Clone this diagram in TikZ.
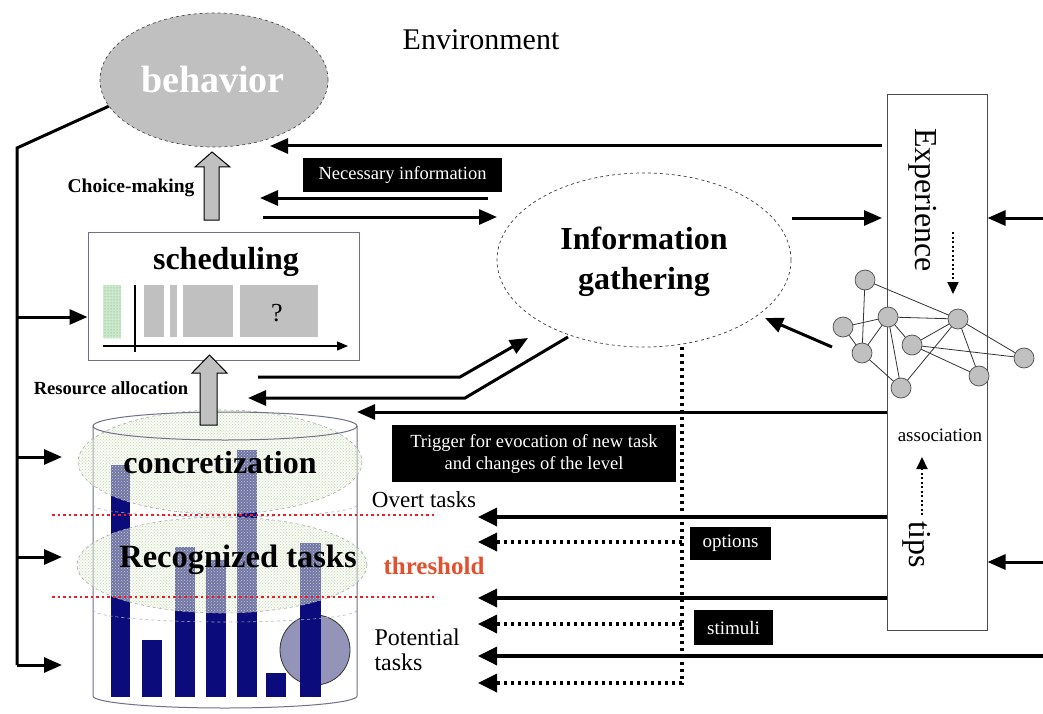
\documentclass[tikz,border=0pt]{standalone}
\usepackage{fontspec}
\setmainfont{Liberation Serif}
\usetikzlibrary{arrows.meta,shapes.geometric,patterns}
\definecolor{navyc}{HTML}{0B0B7B}
\definecolor{grayc}{HTML}{C0C0C0}
\definecolor{creamc}{HTML}{F4F5E4}
\definecolor{greenc}{HTML}{CFE6CF}
\definecolor{redc}{HTML}{E8202A}
\definecolor{threshc}{HTML}{E2502E}
\definecolor{edgec}{HTML}{707088}
\definecolor{circc}{HTML}{9494B8}
\newcommand\fsz[2]{\fontsize{#1}{#2}\selectfont}
\begin{document}
\begin{tikzpicture}[x=1pt,y=-1pt,
  bigtip/.style={-{Triangle[length=19pt,width=18pt]}},
  midtip/.style={-{Triangle[length=18pt,width=15pt]}},
  solidarrow/.style={line width=3.5pt,bigtip},
  toparrow/.style={line width=3pt,midtip},
  dotarrow/.style={line width=3.5pt,dash pattern=on 3pt off 4pt,bigtip},
  smalldot/.style={line width=2pt,dash pattern=on 2pt off 2.5pt,-{Triangle[length=12pt,width=11pt]}},
  blackbox/.style={fill=black,text=white,inner sep=0pt},
  netnode/.style={circle,fill=grayc,draw=gray!60!black,line width=0.7pt,minimum size=20pt,inner sep=0pt},
  netedge/.style={draw=gray!40!black,line width=0.8pt},
  hollowup/.style={fill=grayc,draw=black,line width=1pt},
  redline/.style={draw=redc,line width=2.5pt,dash pattern=on 2.5pt off 3pt},
  cloud/.style={fill=creamc,fill opacity=0.45,draw=gray!70,dashed,line width=0.6pt,draw opacity=1}
]
\useasboundingbox[fill=white] (0,0) rectangle (1043,714);

% ---------- Environment ----------
\node (env) at (481,40) {\fsz{30}{32}Environment};

% ---------- behavior ----------
\node[ellipse,fill=grayc,draw=gray!60!black,dashed,line width=0.7pt,minimum width=228pt,minimum height=134pt,inner sep=0pt] (beh) at (214,80) {};
\node[text=white] (behtxt) at (213,80) {\fsz{38}{40}\bfseries behavior};

% ---------- scheduling box ----------
\node[draw=edgec,line width=1pt,minimum width=271pt,minimum height=128pt,inner sep=0pt] (sched) at (223.5,296) {};
\node (schedtxt) at (226,262) {\fsz{32}{34}\bfseries scheduling};
\fill[greenc] (103,285) rectangle (121,338);
\fill[pattern=dots,pattern color=green!50!gray] (103,285) rectangle (121,338);
\fill[grayc] (144,285) rectangle (164,337);
\fill[grayc] (170,285) rectangle (177,337);
\fill[grayc] (183,285) rectangle (233,337);
\fill[grayc] (240,285) rectangle (318,337);
\node (qm) at (277,313) {\fsz{26}{28}?};
\draw[line width=1.3pt] (135,285) -- (135,352);
\coordinate (ax0) at (103,346);
\coordinate (ax1) at (348,346);
\draw[line width=1.3pt,-{Triangle[length=11pt,width=9pt]}] (ax0) -- (ax1);

% ---------- cylinder ----------
\draw[fill=white,draw=edgec,line width=1pt] (93,426) -- (93,696) arc[start angle=180,end angle=0,x radius=132,y radius=12] -- (357,426);
\filldraw[fill=circc,draw=gray!40!black,line width=0.8pt] (315,650) circle[radius=35pt];
% bars
\fill[navyc] (111,465) rectangle (130,697);
\fill[navyc] (142,640) rectangle (162,697);
\fill[navyc] (175,547) rectangle (195,697);
\fill[navyc] (206,560) rectangle (226,697);
\fill[navyc] (237,450) rectangle (257,697);
\fill[navyc] (266,673) rectangle (286,697);
\fill[navyc] (300,543) rectangle (321,697);
% clouds
\draw[cloud] (220,462) ellipse[x radius=142,y radius=52];
\fill[pattern=crosshatch dots,pattern color=green!30!gray!40] (220,462) ellipse[x radius=142,y radius=52];
\draw[cloud] (222,565) ellipse[x radius=145,y radius=48];
\fill[pattern=crosshatch dots,pattern color=green!30!gray!40] (222,565) ellipse[x radius=145,y radius=48];
\draw[draw=edgec,line width=1pt] (225,426) ellipse[x radius=132,y radius=14];
\draw[gray!60,dashed,line width=0.6pt] (93,505) arc[start angle=180,end angle=0,x radius=132,y radius=12];
\draw[gray!60,dashed,line width=0.6pt] (93,610) arc[start angle=180,end angle=0,x radius=132,y radius=12];
% red threshold lines
\coordinate (r1a) at (52,515); \coordinate (r1b) at (437,515);
\coordinate (r2a) at (52,597); \coordinate (r2b) at (437,597);
\draw[redline] (r1a) -- (r1b);
\draw[redline] (r2a) -- (r2b);
\node (conc) at (220,463) {\fsz{32}{34}\bfseries concretization};
\node (recog) at (238,560) {\fsz{32.5}{34}\bfseries Recognized tasks};
\node[text=threshc] (thr) at (434,566) {\fsz{25}{27}\bfseries threshold};
\node (overt) at (424,500) {\fsz{23}{25}Overt tasks};
\node[align=left,anchor=west,font=\fsz{24}{25}] (pot) at (371,650) {Potential\\tasks};

% ---------- hollow arrows ----------
\draw[hollowup] (204,220) -- (204,167) -- (195,167) -- (212,152) -- (230,167) -- (219,167) -- (219,220) -- cycle;
\draw[hollowup] (200,425) -- (200,373) -- (192,373) -- (209.5,355) -- (227,373) -- (217,373) -- (217,425) -- cycle;
\node (choice) at (131,188) {\fsz{19.5}{21}\bfseries Choice-making};
\node (resalloc) at (111,388) {\fsz{18.5}{20}\bfseries Resource allocation};

% ---------- left feedback ----------
\coordinate (fb0) at (17,148);
\coordinate (fb1) at (17,665);
\coordinate (fbS) at (17,317);
\coordinate (fbC) at (17,457);
\coordinate (fbR) at (17,557);
\coordinate (fbCe) at (62,457);
\coordinate (fbRe) at (62,557);
\coordinate (fbPe) at (62,665);
\draw[line width=3pt,line join=miter] (beh.194) -- (fb0) -- (fb1);
\draw[line width=3pt,midtip] (fbS) -- (sched.west |- fbS);
\draw[line width=3pt,midtip] (fbC) -- (fbCe);
\draw[line width=3pt,midtip] (fbR) -- (fbRe);
\draw[line width=3pt,midtip] (fb1) -- (fbPe);

% ---------- Information gathering ----------
\node[ellipse,fill=white,draw=gray!50!black,dashed,line width=0.7pt,minimum width=294pt,minimum height=174pt,inner sep=0pt] (info) at (644,260) {};
\node[align=center,font=\fsz{32}{40}\bfseries] (infotxt) at (644,262) {Information\\gathering};

% ---------- Experience box ----------
\node[draw=gray!60!black,line width=1pt,minimum width=100pt,minimum height=535pt,inner sep=0pt] (exp) at (937,362.5) {};
\node[rotate=-90] (exptxt) at (923,200) {\fsz{32}{34}Experience};
\node (assoc) at (940,435) {\fsz{19}{21}association};
\node[rotate=-90] (tips) at (917,545) {\fsz{32}{34}tips};
\coordinate (d1a) at (953,232); \coordinate (d1b) at (953,294);
\draw[smalldot] (d1a) -- (d1b);
\coordinate (d2a) at (922,515); \coordinate (d2b) at (922,457);
\draw[smalldot] (d2a) -- (d2b);

% network
\draw[netedge] (865,280) -- (862,353);
\draw[netedge] (865,280) -- (958,319);
\draw[netedge] (843,327) -- (888,317);
\draw[netedge] (888,317) -- (958,319);
\draw[netedge] (888,317) -- (862,353);
\draw[netedge] (888,317) -- (901,388);
\draw[netedge] (888,317) -- (912,345);
\draw[netedge] (862,353) -- (901,388);
\draw[netedge] (958,319) -- (912,345);
\draw[netedge] (958,319) -- (901,388);
\draw[netedge] (958,319) -- (979,376);
\draw[netedge] (958,319) -- (1024,358);
\draw[netedge] (912,345) -- (1024,358);
\draw[netedge] (912,345) -- (979,376);
\draw[netedge] (843,327) -- (862,353);
\node[netnode] (n1) at (865,280) {};
\node[netnode] (n2) at (843,327) {};
\node[netnode] (n3) at (888,317) {};
\node[netnode] (n4) at (958,319) {};
\node[netnode] (n5) at (912,345) {};
\node[netnode] (n6) at (862,353) {};
\node[netnode] (n7) at (1024,358) {};
\node[netnode] (n8) at (979,376) {};
\node[netnode] (n9) at (901,388) {};

% ---------- top connectors ----------
\coordinate (t0) at (882,146);
\coordinate (t1) at (270,146);
\draw[toparrow] (t0) -- (t1);
\node[blackbox,minimum width=199pt,minimum height=34pt] (necinfo) at (402.5,175) {\fsz{18.5}{20}Necessary information};
\coordinate (n0a) at (488,198); \coordinate (n0b) at (260,198);
\draw[toparrow] (n0a) -- (n0b);
\coordinate (n1a) at (263,217); \coordinate (n1b) at (497,217);
\draw[toparrow] (n1a) -- (n1b);
\coordinate (e0a) at (792,218); \coordinate (e0b) at (882,218);
\draw[toparrow] (e0a) -- (e0b);
\coordinate (r0a) at (1043,218);
\draw[toparrow] (r0a) -- (exp.east |- r0a);
\coordinate (r1x) at (1043,562);
\draw[toparrow] (r1x) -- (exp.east |- r1x);
\coordinate (nw0) at (832,347); \coordinate (nw1) at (765,318);
\draw[toparrow] (nw0) -- (nw1);

% ---------- middle connectors ----------
\coordinate (m0a) at (258,377); \coordinate (m0b) at (460,377); \coordinate (m0c) at (528,338);
\draw[toparrow,line join=miter] (m0a) -- (m0b) -- (m0c);
\coordinate (m1a) at (568,337); \coordinate (m1b) at (465,398); \coordinate (m1c) at (248,398);
\draw[toparrow,line join=miter] (m1a) -- (m1b) -- (m1c);
\coordinate (m2b) at (357,412);
\draw[toparrow] (exp.west |- m2b) -- (m2b);
\node[blackbox,minimum width=284pt,minimum height=57pt,align=center,font=\fsz{18.5}{22}] (trig) at (534,453.5) {Trigger for evocation of new task\\and changes of the level};

% ---------- lower connectors ----------
\coordinate (o1) at (478,517);
\draw[solidarrow] (exp.west |- o1) -- (o1);
\coordinate (o2) at (478,598);
\draw[solidarrow] (exp.west |- o2) -- (o2);
\coordinate (o3a) at (1043,656); \coordinate (o3) at (478,656);
\draw[solidarrow] (o3a) -- (o3);
\coordinate (v0) at (682,347); \coordinate (v1) at (682,683); \coordinate (v2) at (478,683);
\draw[dotarrow] (v0) -- (v1) -- (v2);
\coordinate (op0) at (682,542); \coordinate (op1) at (478,542);
\draw[dotarrow] (op0) -- (op1);
\coordinate (st0) at (682,624); \coordinate (st1) at (478,624);
\draw[dotarrow] (st0) -- (st1);
\node[blackbox,minimum width=81pt,minimum height=33pt] (opt) at (730.5,543.5) {\fsz{19}{21}options};
\node[blackbox,minimum width=79pt,minimum height=35pt] (stim) at (733.5,627.5) {\fsz{19}{21}stimuli};
\end{tikzpicture}
\end{document}
